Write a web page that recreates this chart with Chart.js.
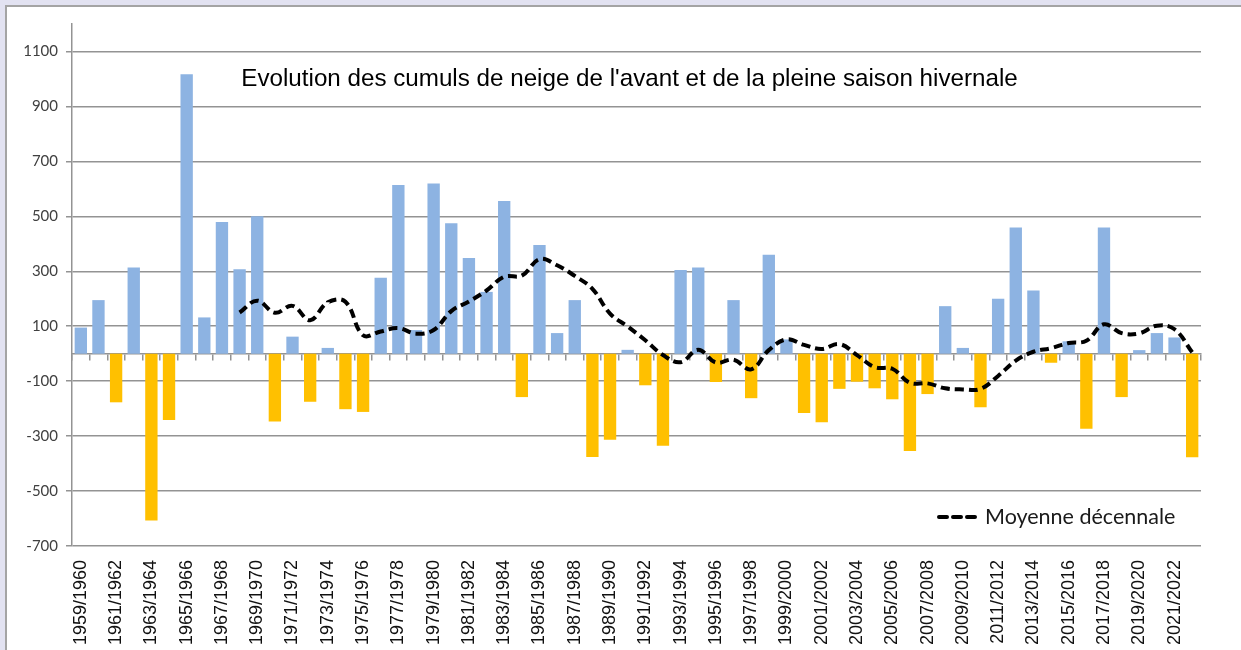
<!DOCTYPE html>
<html>
<head>
<meta charset="utf-8">
<script src="https://cdn.jsdelivr.net/npm/chart.js@4/dist/chart.umd.min.js"></script>
<style>
  html,body{margin:0;padding:0;background:#e2e2f1;width:1241px;height:650px;overflow:hidden;}
  #frame{position:absolute;left:5px;top:5px;width:1236px;height:645px;background:#fff;border-top:2px solid #a4a4a4;border-left:2px solid #a4a4a4;box-sizing:border-box;}
  #wrap{position:absolute;left:0;top:0;width:1234px;height:643px;}
</style>
</head>
<body>
<div id="frame"><div id="wrap"><canvas id="c"></canvas></div></div>
<script>
const saisons=["1959/1960","1960/1961","1961/1962","1962/1963","1963/1964","1964/1965","1965/1966","1966/1967","1967/1968","1968/1969",
  "1969/1970","1970/1971","1971/1972","1972/1973","1973/1974","1974/1975","1975/1976","1976/1977","1977/1978","1978/1979",
  "1979/1980","1980/1981","1981/1982","1982/1983","1983/1984","1984/1985","1985/1986","1986/1987","1987/1988","1988/1989",
  "1989/1990","1990/1991","1991/1992","1992/1993","1993/1994","1994/1995","1995/1996","1996/1997","1997/1998","1998/1999",
  "1999/2000","2000/2001","2001/2002","2002/2003","2003/2004","2004/2005","2005/2006","2006/2007","2007/2008","2008/2009",
  "2009/2010","2010/2011","2011/2012","2012/2013","2013/2014","2014/2015","2015/2016","2016/2017","2017/2018","2018/2019",
  "2019/2020","2020/2021","2021/2022","2022/2023"];

// écart des cumuls de neige par saison
const cumuls=[95,195,-177,314,-607,-241,1017,132,479,307,
  500,-247,62,-175,21,-202,-212,276,614,86,
  619,475,348,225,556,-158,396,75,195,-376,
  -313,14,-115,-335,305,314,-103,195,-162,360,
  52,-216,-250,-128,-102,-126,-166,-354,-147,173,
  21,-195,200,459,230,-33,45,-273,459,-158,
  13,75,59,-377];

// moyenne décennale
const moyenne=[null,null,null,null,null,null,null,null,null,150,
  193,149,174,122,187,189,67,81,93,73,
  86,155,190,230,280,284,344,322,283,236,
  146,99,49,-5,-31,14,-32,-22,-57,13,
  52,32,17,35,-5,-49,-55,-106,-108,-126,
  -130,-128,-81,-25,7,20,39,47,107,75,
  74,102,89,5];

const yTicks=[-700,-500,-300,-100,100,300,500,700,900,1100];
const titre="Evolution des cumuls de neige de l'avant et de la pleine saison hivernale";
const legende="Moyenne décennale";

const GRID="#939393";

const overlay={
  id:"overlay",
  afterDraw(chart){
    const ctx=chart.ctx;
    ctx.save();
    ctx.fillStyle="#000";
    ctx.font='24.2px "Liberation Sans", Arial, sans-serif';
    ctx.textAlign="center"; ctx.textBaseline="alphabetic";
    ctx.fillText(titre,622.5,79);
    // legend
    ctx.strokeStyle="#000"; ctx.lineWidth=4; ctx.setLineDash([8,6]); ctx.lineCap="round";
    ctx.beginPath(); ctx.moveTo(932,510); ctx.lineTo(973,510); ctx.stroke();
    ctx.setLineDash([]);
    ctx.fillStyle="#1a1a1a";
    ctx.font='21.5px Lato, "Open Sans", sans-serif';
    ctx.textAlign="left";
    ctx.fillText(legende,978,517);
    ctx.restore();
  }
};

new Chart(document.getElementById("c"),{
  type:"bar",
  data:{
    labels:saisons,
    datasets:[
      {type:"line",label:legende,data:moyenne,borderColor:"#000",borderWidth:4,borderDash:[9,5],
       pointRadius:0,tension:0.4,fill:false,order:0},
      {label:"Cumuls",data:cumuls,order:1,
       backgroundColor:(c)=> (c.raw>=0 ? "#8db3e2" : "#ffc000"),
       barPercentage:0.7,categoryPercentage:1}
    ]
  },
  options:{
    animation:false,responsive:true,maintainAspectRatio:false,
    layout:{padding:{top:16,right:40,left:0,bottom:0}},
    plugins:{legend:{display:false},tooltip:{enabled:false},title:{display:false}},
    scales:{
      x:{
        offset:true,
        grid:{display:false},
        border:{display:false},
        ticks:{autoSkip:false,maxRotation:90,minRotation:90,padding:6,color:"#111",
          font:{family:'"Liberation Sans", Arial, sans-serif',size:18},
          callback:function(v,i){return i%2===0 ? this.getLabelForValue(v) : "";}},
        afterFit(axis){axis.height=104;}
      },
      x0:{
        type:"category",position:{y:0},offset:true,
        grid:{offset:true,drawOnChartArea:false,drawTicks:true,tickLength:6,color:GRID,lineWidth:1.5},
        border:{display:true,color:GRID,width:1.5},
        ticks:{display:false}
      },
      y:{
        min:-700,max:1200,
        afterBuildTicks(axis){axis.ticks=yTicks.map(v=>({value:v}));},
        grid:{color:GRID,lineWidth:1.5,tickLength:6},
        border:{display:true,color:GRID,width:1.5},
        ticks:{color:"#404040",padding:8,font:{family:'Lato, "Open Sans", sans-serif',size:15},
          callback:(v)=>String(v)},
        afterFit(axis){axis.width=65;}
      }
    }
  },
  plugins:[overlay]
});
</script>
</body>
</html>
